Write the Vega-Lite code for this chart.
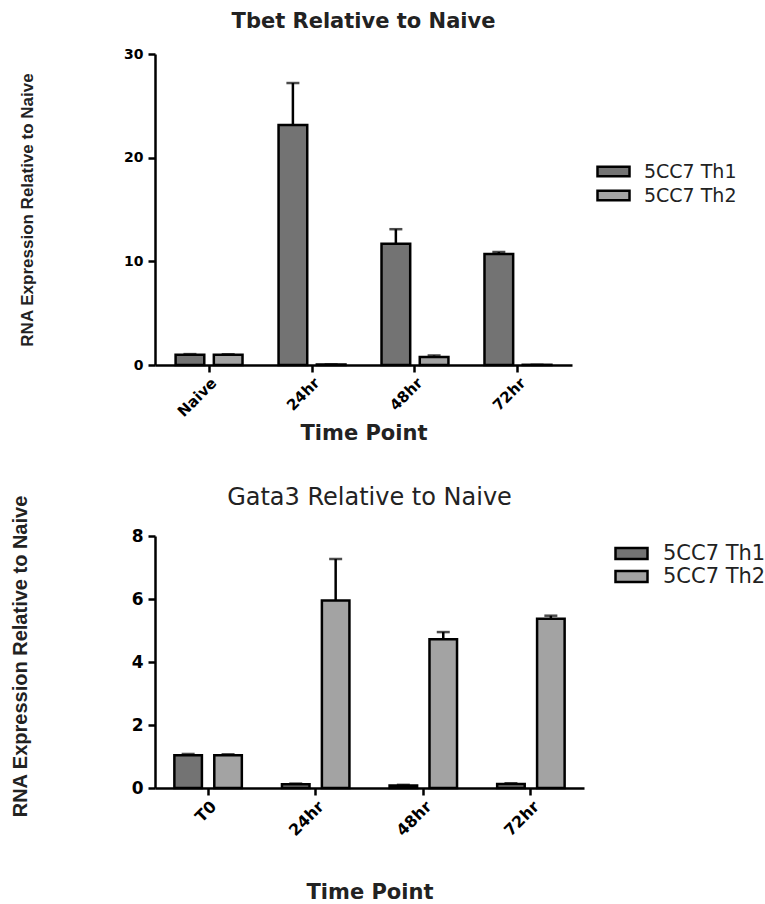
{
  "$schema": "https://vega.github.io/schema/vega-lite/v6.json",
  "background": "white",
  "padding": {"left": 10, "top": 11, "right": 0, "bottom": 0},
  "bounds": "flush",
  "config": {
    "view": {"stroke": null},
    "font": "DejaVu Sans",
    "axis": {"grid": false, "domainColor": "black", "tickColor": "black", "labelColor": "black", "titleColor": "#222222"},
    "legend": {"labelColor": "#222222"}
  },
  "datasets": {
    "tbet": [
      {"time": "Naive", "group": "5CC7 Th1", "value": 1.0, "upper": 1.05},
      {"time": "Naive", "group": "5CC7 Th2", "value": 1.0, "upper": 1.04},
      {"time": "24hr", "group": "5CC7 Th1", "value": 23.15, "upper": 27.2},
      {"time": "24hr", "group": "5CC7 Th2", "value": 0.05, "upper": 0.05},
      {"time": "48hr", "group": "5CC7 Th1", "value": 11.7, "upper": 13.1},
      {"time": "48hr", "group": "5CC7 Th2", "value": 0.78, "upper": 0.92},
      {"time": "72hr", "group": "5CC7 Th1", "value": 10.7, "upper": 10.9},
      {"time": "72hr", "group": "5CC7 Th2", "value": 0.02, "upper": 0.02}
    ],
    "gata3": [
      {"time": "T0", "group": "5CC7 Th1", "value": 1.04, "upper": 1.08},
      {"time": "T0", "group": "5CC7 Th2", "value": 1.04, "upper": 1.07},
      {"time": "24hr", "group": "5CC7 Th1", "value": 0.12, "upper": 0.14},
      {"time": "24hr", "group": "5CC7 Th2", "value": 5.95, "upper": 7.27},
      {"time": "48hr", "group": "5CC7 Th1", "value": 0.08, "upper": 0.1},
      {"time": "48hr", "group": "5CC7 Th2", "value": 4.72, "upper": 4.95},
      {"time": "72hr", "group": "5CC7 Th1", "value": 0.13, "upper": 0.15},
      {"time": "72hr", "group": "5CC7 Th2", "value": 5.37, "upper": 5.47}
    ]
  },
  "spacing": 171,
  "vconcat": [
    {
      "width": 417,
      "height": 311,
      "title": {"text": "Tbet Relative to Naive", "fontSize": 21, "fontWeight": "bold", "color": "#222222", "offset": 15, "anchor": "middle"},
      "data": {"name": "tbet"},
      "encoding": {
        "x": {
          "field": "time", "type": "nominal", "sort": ["Naive", "24hr", "48hr", "72hr"],
          "scale": {"paddingInner": 0.35, "paddingOuter": 0.2},
          "axis": {"title": "Time Point", "titleFontSize": 21, "titleFontWeight": "bold", "titlePadding": 3,
                   "labelAngle": -45, "labelFontSize": 15, "labelFontWeight": "bold", "labelPadding": 3,
                   "domainWidth": 2.5, "tickWidth": 2.5, "tickSize": 7}
        },
        "xOffset": {"field": "group", "type": "nominal", "scale": {"paddingInner": 0.25}}
      },
      "layer": [
        {
          "mark": {"type": "bar", "stroke": "black", "strokeWidth": 2.5},
          "encoding": {
            "y": {"field": "value", "type": "quantitative", "title": "RNA Expression  Relative to Naive", "scale": {"domain": [0, 30]},
                  "axis": {"values": [0, 10, 20, 30],
                           "titleFont": "Liberation Sans", "titleFontSize": 17, "titleFontWeight": "bold", "titlePadding": 87,
                           "labelFontSize": 14, "labelFontWeight": "bold", "labelPadding": 5,
                           "domainWidth": 2.5, "tickWidth": 2.5, "tickSize": 7}},
            "fill": {"field": "group", "type": "nominal",
                     "scale": {"domain": ["5CC7 Th1", "5CC7 Th2"], "range": ["#737373", "#a3a3a3"]},
                     "legend": {"title": null, "orient": "none", "legendX": 449, "legendY": 108,
                                "symbolType": "M-2,-0.6H2V0.6H-2Z", "symbolSize": 256,
                                "symbolStrokeColor": "black", "symbolStrokeWidth": 2.5,
                                "labelFontSize": 19, "labelOffset": 21, "rowPadding": 3}}
          }
        },
        {
          "mark": {"type": "rule", "color": "black", "strokeWidth": 2.5},
          "encoding": {"y": {"field": "value", "type": "quantitative", "title": "RNA Expression  Relative to Naive"}, "y2": {"field": "upper"}}
        },
        {
          "mark": {"type": "tick", "color": "black", "thickness": 2.5, "size": 13},
          "encoding": {"y": {"field": "upper", "type": "quantitative", "title": "RNA Expression  Relative to Naive"}}
        }
      ]
    },
    {
      "width": 429,
      "height": 252,
      "title": {"text": "Gata3 Relative to Naive", "fontSize": 24, "fontWeight": "normal", "color": "#222222", "offset": -18, "anchor": "middle"},
      "data": {"name": "gata3"},
      "encoding": {
        "x": {
          "field": "time", "type": "nominal", "sort": ["T0", "24hr", "48hr", "72hr"],
          "scale": {"paddingInner": 0.373, "paddingOuter": 0.18},
          "axis": {"title": "Time Point", "titleFontSize": 21, "titleFontWeight": "bold", "titlePadding": 43,
                   "labelAngle": -45, "labelFontSize": 16, "labelFontWeight": "bold", "labelPadding": 3,
                   "domainWidth": 2.5, "tickWidth": 2.5, "tickSize": 7}
        },
        "xOffset": {"field": "group", "type": "nominal", "scale": {"paddingInner": 0.31}}
      },
      "layer": [
        {
          "mark": {"type": "bar", "stroke": "black", "strokeWidth": 2.5},
          "encoding": {
            "y": {"field": "value", "type": "quantitative", "title": "RNA Expression  Relative to Naive", "scale": {"domain": [0, 8]},
                  "axis": {"values": [0, 2, 4, 6, 8],
                           "titleFont": "Liberation Sans", "titleFontSize": 20, "titleFontWeight": "bold", "titlePadding": 101, "titleY": 120,
                           "labelFontSize": 17, "labelFontWeight": "bold", "labelPadding": 5,
                           "domainWidth": 2.5, "tickWidth": 2.5, "tickSize": 7}},
            "fill": {"field": "group", "type": "nominal",
                     "scale": {"domain": ["5CC7 Th1", "5CC7 Th2"], "range": ["#737373", "#a3a3a3"]},
                     "legend": {"title": null, "orient": "none", "legendX": 466, "legendY": 7,
                                "symbolType": "M-2,-0.7H2V0.7H-2Z", "symbolSize": 256,
                                "symbolStrokeColor": "black", "symbolStrokeWidth": 2.5,
                                "labelFontSize": 21, "labelOffset": 21, "rowPadding": 0}}
          }
        },
        {
          "mark": {"type": "rule", "color": "black", "strokeWidth": 2.5},
          "encoding": {"y": {"field": "value", "type": "quantitative", "title": "RNA Expression  Relative to Naive"}, "y2": {"field": "upper"}}
        },
        {
          "mark": {"type": "tick", "color": "black", "thickness": 2.5, "size": 13},
          "encoding": {"y": {"field": "upper", "type": "quantitative", "title": "RNA Expression  Relative to Naive"}}
        }
      ]
    }
  ],
  "resolve": {"scale": {"x": "independent", "y": "independent", "fill": "independent", "xOffset": "independent"}, "legend": {"fill": "independent"}}
}
